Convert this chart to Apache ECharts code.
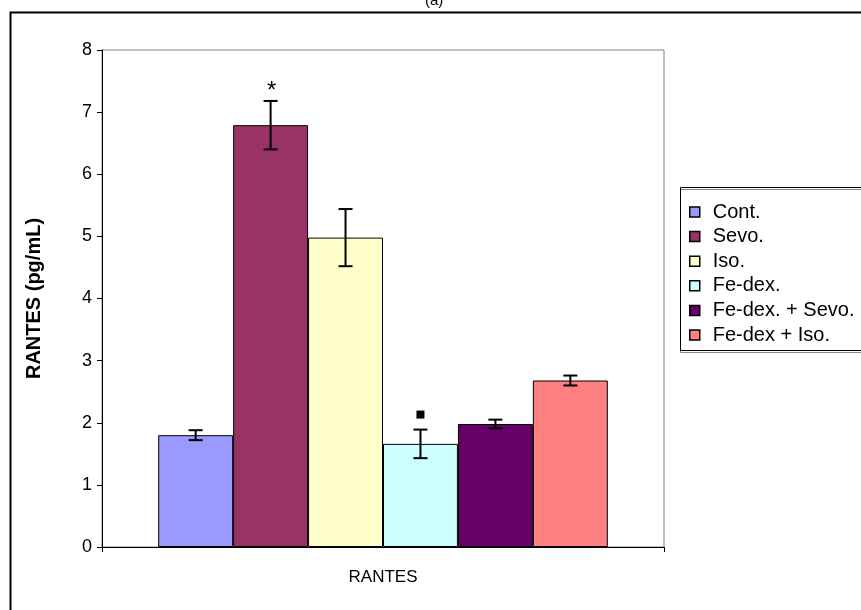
<!DOCTYPE html>
<html><head><meta charset="utf-8">
<script src="https://cdn.jsdelivr.net/npm/echarts@6/dist/echarts.min.js"></script>
<style>html,body{margin:0;padding:0;background:#fff}#c{width:861px;height:610px}</style>
</head><body><div id="c"></div>
<script>
const categories = ['RANTES'];
const groups = ['Cont.', 'Sevo.', 'Iso.', 'Fe-dex.', 'Fe-dex. + Sevo.', 'Fe-dex + Iso.'];
const means = [1.80, 6.79, 4.98, 1.66, 1.98, 2.68];
const errors = [0.08, 0.39, 0.46, 0.23, 0.07, 0.08];
const marks = ['', '*', '', '■', '', ''];
const colors = ['#9999FF', '#993366', '#FFFFCC', '#CCFFFF', '#660066', '#FF8080'];
const yTicks = [0, 1, 2, 3, 4, 5, 6, 7, 8];

const FONT = 'Liberation Sans, Arial, sans-serif';
const chart = echarts.init(document.getElementById('c'), null, {renderer: 'canvas'});
const n = groups.length;
const series = [];
groups.forEach((g, i) => {
  series.push({
    name: g, type: 'bar', data: [means[i]],
    itemStyle: {color: colors[i], borderColor: '#000', borderWidth: 1},
    barGap: '0%', barCategoryGap: '20%'
  });
});
groups.forEach((g, i) => {
  series.push({
    type: 'custom', name: g + '_err', z: 10,
    data: [[0, means[i], errors[i]]],
    renderItem: function (params, api) {
      const c = api.coord([0, api.value(1)]);
      const catW = api.size([1, 0])[0];
      const bw = catW * 0.8 / n;
      const cx = c[0] + (i - (n - 1) / 2) * bw;
      const top = api.coord([0, api.value(1) + api.value(2)])[1];
      const bot = api.coord([0, api.value(1) - api.value(2)])[1];
      const hw = 7;
      const st = {stroke: '#000', lineWidth: 2};
      const children = [
        {type: 'line', shape: {x1: cx, y1: top, x2: cx, y2: bot}, style: st},
        {type: 'line', shape: {x1: cx - hw, y1: top, x2: cx + hw, y2: top}, style: st},
        {type: 'line', shape: {x1: cx - hw, y1: bot, x2: cx + hw, y2: bot}, style: st}
      ];
      if (marks[i] === '*') {
        children.push({type: 'text', style: {text: '*', x: cx + 1, y: top + 2, textAlign: 'center', textVerticalAlign: 'bottom', font: '24px ' + FONT, fill: '#000'}});
      } else if (marks[i] === '■') {
        children.push({type: 'rect', shape: {x: cx - 4, y: top - 19, width: 8, height: 8}, style: {fill: '#000'}});
      }
      return {type: 'group', children: children};
    }
  });
});

chart.setOption({
  animation: false,
  title: {text: '(a)', left: 420, top: -12, textStyle: {fontFamily: FONT, fontSize: 15, fontWeight: 'normal', color: '#000'}},
  grid: {left: 102, right: 197, top: 50, bottom: 63, show: true, borderColor: '#808080', borderWidth: 1, backgroundColor: '#fff'},
  xAxis: {
    type: 'category', data: categories,
    axisLine: {lineStyle: {color: '#000', width: 1}},
    axisTick: {show: true, length: 5, alignWithLabel: false, lineStyle: {color: '#000'}},
    axisLabel: {fontFamily: FONT, fontSize: 17, color: '#000', margin: 22}
  },
  yAxis: {
    type: 'value', min: yTicks[0], max: yTicks[yTicks.length - 1], interval: 1,
    name: 'RANTES (pg/mL)', nameLocation: 'middle', nameGap: 58,
    nameTextStyle: {fontFamily: FONT, fontSize: 20, fontWeight: 'bold', color: '#000'},
    axisLine: {show: true, lineStyle: {color: '#000', width: 1}},
    axisTick: {show: true, length: 5, lineStyle: {color: '#000'}},
    splitLine: {show: false},
    axisLabel: {fontFamily: FONT, fontSize: 18, color: '#000', margin: 10}
  },
  legend: {
    orient: 'vertical', left: 684, top: 197,
    data: groups,
    itemWidth: 10, itemHeight: 10, itemGap: 4.6,
    icon: 'rect',
    textStyle: {fontFamily: FONT, fontSize: 20, color: '#000', padding: [0, 0, 0, 8]},
    itemStyle: {borderColor: '#000', borderWidth: 1.5}
  },
  graphic: [
    {type: 'rect', left: 8, top: 10, shape: {width: 880, height: 620}, style: {fill: null, stroke: '#000', lineWidth: 2}, z: 100, silent: true},
    {type: 'rect', left: 678, top: 185, shape: {width: 200, height: 163}, style: {fill: null, stroke: '#000', lineWidth: 1, shadowColor: '#888', shadowOffsetY: 2, shadowBlur: 0}, z: 100, silent: true}
  ],
  series: series
});
</script></body></html>
